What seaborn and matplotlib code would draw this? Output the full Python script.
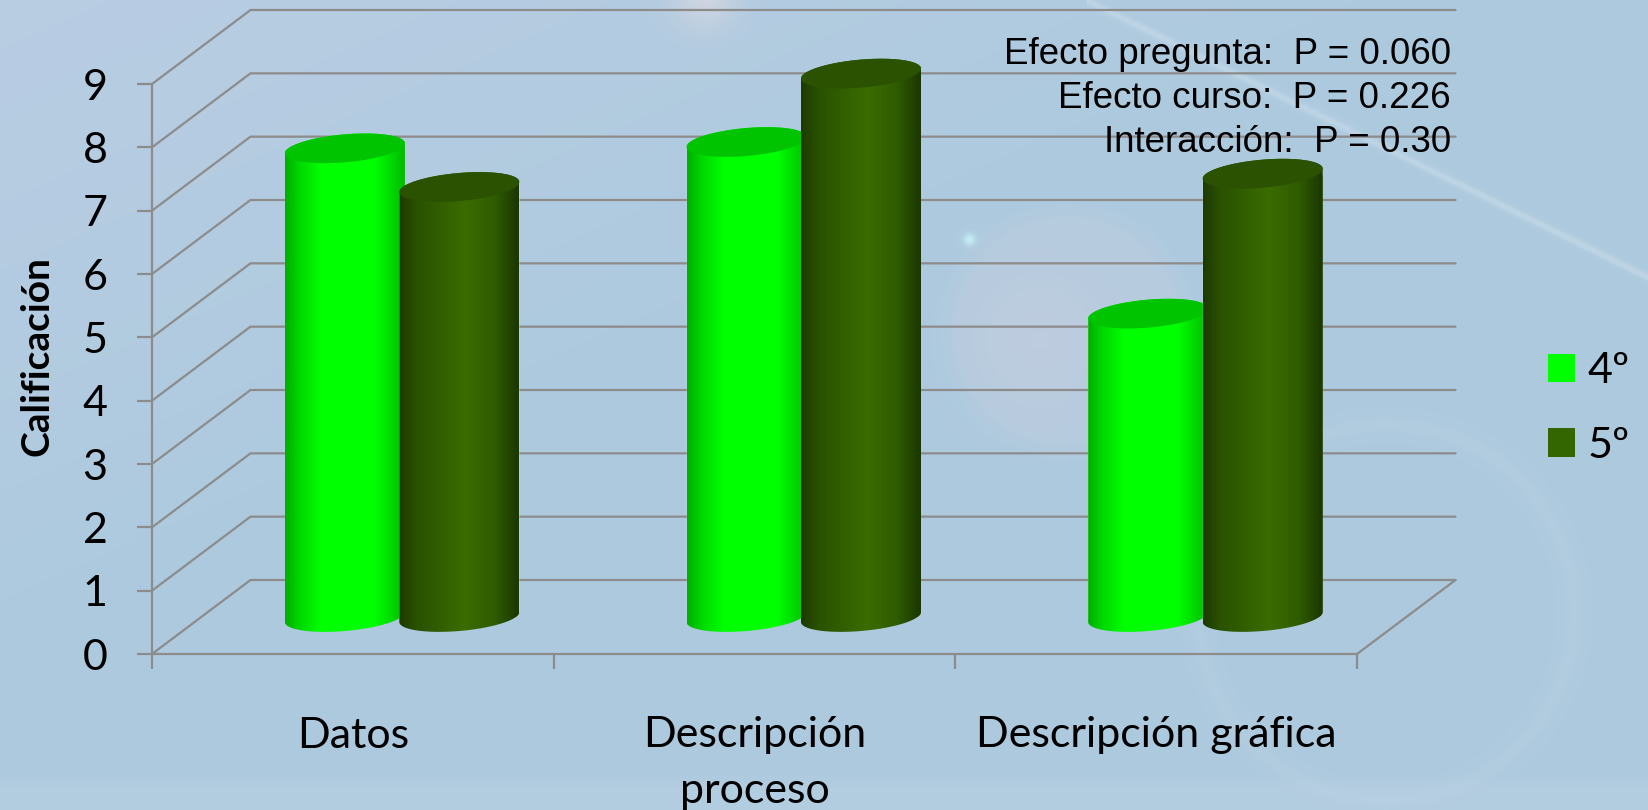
import numpy as np
import pandas as pd
import matplotlib
matplotlib.use("Agg")
import matplotlib.pyplot as plt
import seaborn as sns
from matplotlib.path import Path
from matplotlib.patches import PathPatch, Patch
from matplotlib.colors import LinearSegmentedColormap

categories = ["Datos", "Descripción\nproceso", "Descripción gráfica"]
grades_4 = [7.40, 7.50, 4.79]
grades_5 = [6.79, 8.58, 7.00]
series_names = ["4º", "5º"]
y_ticks = list(range(10))
notes = ["Efecto pregunta:  P = 0.060", "Efecto curso:  P = 0.226", "Interacción:  P = 0.30"]

W, H = 1648, 810
AX_L, AX_R, AX_B, AX_T = 152, 1357, 654, 84      # pixel box of the front plane
GRID = "#8c8c8c"
BODY_FONT = "Lato"

sns.set_theme(style="white")
plt.rcParams["font.family"] = [BODY_FONT, "DejaVu Sans"]

fig = plt.figure(figsize=(W / 100, H / 100), dpi=100)

# ---- slide background ----
yy, xx = np.mgrid[0:H, 0:W].astype(float)
img = np.zeros((H, W, 3))
c0, c1 = np.array([0.725, 0.804, 0.890]), np.array([0.682, 0.792, 0.871])
mix = np.clip((xx / W * 0.9 + yy / H) / 0.75, 0, 1)[..., None]
img[:] = c0 * (1 - mix) + c1 * mix
band = np.clip((yy - 775) / 12, 0, 1)[..., None] * 0.2
img = img * (1 - band) + np.array([0.78, 0.84, 0.91]) * band


def blend(im, alpha, col):
    a = alpha[..., None]
    return im * (1 - a) + np.array(col) * a


r = np.hypot(xx - 705, yy + 5)
img = blend(img, 0.6 * np.exp(-(r / 32) ** 2), (0.88, 0.86, 0.88))
r = np.hypot(xx - 1067, yy - 330)
img = blend(img, 0.38 * np.clip((131 - r) / 25, 0, 1), (0.78, 0.81, 0.88))
r = np.hypot(xx - 1040, yy - 340)
img = blend(img, 0.16 * np.exp(-(r / 60) ** 2), (0.86, 0.82, 0.86))
r = np.hypot(xx - 1386, yy - 612)
img = blend(img, 0.2 * np.exp(-((r - 188) / 9) ** 2), (0.76, 0.84, 0.90))
d = np.abs(yy - (xx - 1086) * 0.493)
img = blend(img, 0.35 * np.exp(-(d / 4) ** 2) * (xx > 1086), (0.86, 0.91, 0.95))
r = np.hypot(xx - 969, yy - 239)
img = blend(img, 0.8 * np.exp(-(r / 6) ** 2), (0.80, 0.97, 0.98))

bg = fig.add_axes([0, 0, 1, 1], zorder=-1)
bg.imshow(np.clip(img, 0, 1), aspect="auto", extent=(0, W, H, 0), interpolation="bilinear")
bg.axis("off")

# ---- main axes ----
ax = fig.add_axes([AX_L / W, 1 - AX_B / H, (AX_R - AX_L) / W, (AX_B - AX_T) / H], zorder=1)
ax.patch.set_alpha(0)

df = pd.DataFrame({
    "Pregunta": categories * 2,
    "Calificación": grades_4 + grades_5,
    "Curso": [series_names[0]] * 3 + [series_names[1]] * 3,
})
sns.barplot(data=df, x="Pregunta", y="Calificación", hue="Curso", hue_order=series_names,
            palette=["#00FF00", "#336600"], width=0.57, gap=0, ax=ax, legend=False,
            saturation=1, errorbar=None)
ax.set_xlim(-0.5, 2.5)
ax.set_ylim(0, 9)

px_x = (AX_R - AX_L) / 3
px_y = (AX_B - AX_T) / 9
depth_x, depth_y = 98.5 / px_x, 74 / px_y      # full floor depth, data units

# wall and floor
for v in y_ticks:
    xs = [-0.5, -0.5 + depth_x, 2.5 + depth_x]
    ys = [v, v + depth_y, v + depth_y]
    ax.plot(xs, ys, color=GRID, lw=1.6, clip_on=False, zorder=1, solid_joinstyle="miter")
ax.plot([2.5, 2.5 + depth_x], [0, depth_y], color=GRID, lw=1.6, clip_on=False, zorder=1)

for s in ("top", "right"):
    ax.spines[s].set_visible(False)
for s in ("left", "bottom"):
    ax.spines[s].set_color(GRID)
    ax.spines[s].set_linewidth(1.6)

ax.set_yticks(y_ticks)
ax.set_xticks([0, 1, 2])
ax.set_xticklabels(categories, fontsize=31, color="black", linespacing=1.56, va="top")
ax.set_xticks([-0.5, 0.5, 1.5, 2.5], minor=True)
ax.tick_params(axis="x", which="major", length=0, pad=45)
ax.tick_params(axis="x", which="minor", length=11, width=1.6, color=GRID, bottom=True)
ax.tick_params(axis="y", length=11, width=1.6, color=GRID, labelsize=31, pad=21, left=True, labelcolor="black")
ax.set_xlabel("")
ax.set_ylabel("Calificación", fontsize=28, fontweight="bold", color="black")
ax.yaxis.set_label_coords(-0.081, 0.523)

# ---- cylinders built on the seaborn bars ----
half_w = 60 / px_x
b = 14 / px_y
k = 5 / px_y
t = np.linspace(0, np.pi, 80)
grad_maps = [
    LinearSegmentedColormap.from_list("g", [(0, "#00AE00"), (0.12, "#00D800"), (0.3, "#00FF00"),
                                             (0.75, "#00FF00"), (0.92, "#00D000"), (1, "#00B800")]),
    LinearSegmentedColormap.from_list("d", [(0, "#1D3A00"), (0.15, "#2A5200"), (0.55, "#3A6C00"),
                                             (0.8, "#2F5C00"), (1, "#1B3600")]),
]
top_colors = ["#00C400", "#2B5200"]
ramp = np.linspace(0, 1, 256)[None, :]

bars = list(ax.patches)
for i, bar in enumerate(bars):
    hue_idx = i // 3
    cx = bar.get_x() + bar.get_width() / 2 + depth_x / 2
    v = bar.get_height()
    base = depth_y / 2
    top = base + v

    bar.set_x(cx - half_w)
    bar.set_width(2 * half_w)
    bar.set_y(base)
    bar.set_zorder(3 + hue_idx)

    ex = half_w * np.cos(t)
    lower_x, lower_y = cx - ex, base - k * (ex / half_w) - b * np.sin(t)
    upper_x = cx + ex
    upper_y = top + k * (ex / half_w) + b * np.sin(t)
    body = np.r_[np.c_[lower_x, lower_y], np.c_[upper_x, upper_y], [[lower_x[0], lower_y[0]]]]
    body_patch = PathPatch(Path(body, closed=True), fc="none", ec="none", transform=ax.transData,
                           zorder=3 + hue_idx, clip_on=False)
    ax.add_patch(body_patch)
    bar.set_clip_path(body_patch)
    bar.set_clip_box(fig.bbox)
    im = ax.imshow(ramp, cmap=grad_maps[hue_idx], aspect="auto", vmin=0, vmax=1,
                   extent=(cx - half_w, cx + half_w, base - 2 * b, top + 2 * b),
                   zorder=3.1 + hue_idx, interpolation="bilinear")
    im.set_clip_path(body_patch)
    im.set_clip_box(fig.bbox)

    tt = np.linspace(0, 2 * np.pi, 160)
    ell = np.c_[cx + half_w * np.cos(tt), top + k * np.cos(tt) + b * np.sin(tt)]
    ax.add_patch(PathPatch(Path(ell, closed=True), fc=top_colors[hue_idx], ec="none",
                           zorder=3.2 + hue_idx, clip_on=False))

ax.set_xlim(-0.5, 2.5)
ax.set_ylim(0, 9)

# ---- notes ----
for note, y in zip(notes, [54, 99, 143]):
    fig.text(1451 / W, 1 - y / H, note, ha="right", va="center", fontsize=26.5,
             family=["Liberation Sans", "DejaVu Sans"], color="black", zorder=10)

# ---- legend ----
handles = [Patch(facecolor=c, edgecolor="none") for c in ["#00FF00", "#336600"]]
fig.legend(handles, series_names, loc="center left", bbox_to_anchor=(1548 / W, 1 - 408.5 / H),
           frameon=False, fontsize=31, handlelength=0.63, handleheight=0.63,
           handletextpad=0.28, labelspacing=0.84, labelcolor="black", borderpad=0, borderaxespad=0)

fig.savefig("out.png", dpi=100)
